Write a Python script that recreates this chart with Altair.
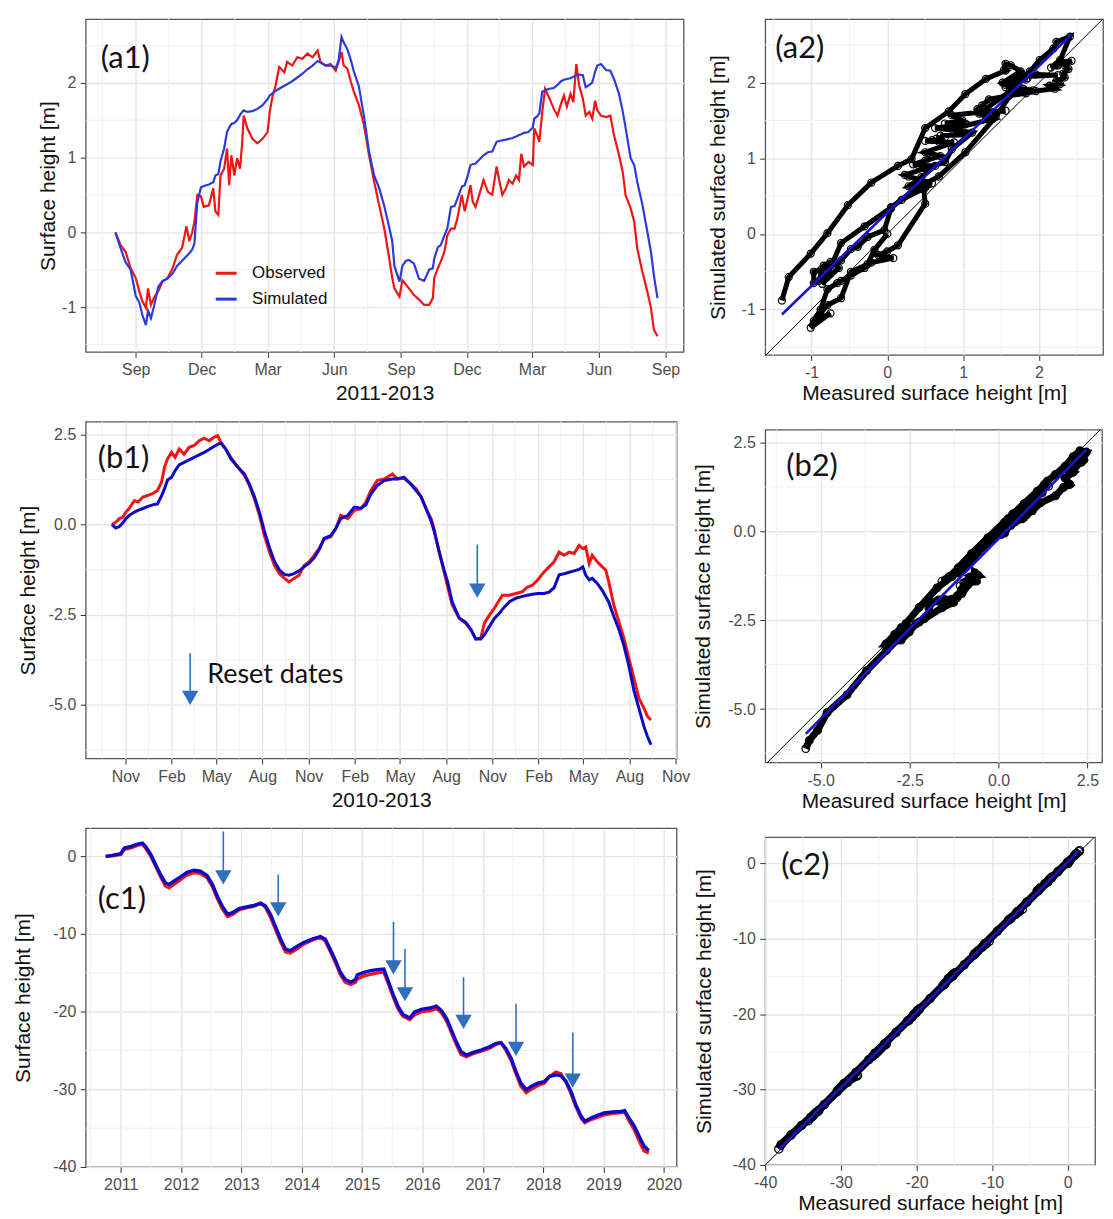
import altair as alt
import pandas as pd

FONT = "Liberation Sans"
LFONT = "Lato"
RED = "#F21414"
BLUE_A = "#2B3BDB"
BLUE_B = "#0A0AC6"
FIT = "#1515D0"
ARROW = "#2F6FBF"
MINOR = "#F0F0F0"

# ---------------- (a) 2011-2013 : days since 2011-09-01 ----------------
a_day = [-28, -21, -14, -7, 0, 5, 9, 14, 17, 21,
         25, 31, 37, 44, 51, 57, 64, 70, 74, 78,
         81, 85, 90, 94, 101, 107, 110, 114, 117, 122,
         126, 129, 132, 136, 140, 144, 147, 149, 154, 161,
         168, 175, 182, 185, 189, 193, 198, 205, 209, 216,
         223, 230, 237, 244, 251, 255, 262, 269, 276, 280,
         284, 287, 292, 297, 301, 308, 315, 322, 329, 336,
         343, 349, 354, 357, 364, 368, 373, 377, 384, 391,
         398, 405, 410, 412, 417, 421, 426, 430, 435, 440,
         444, 450, 454, 458, 462, 465, 469, 474, 480, 486,
         492, 498, 502, 506, 511, 515, 520, 525, 529, 532,
         536, 542, 548, 550, 554, 557, 561, 565, 571, 577,
         582, 587, 591, 595, 600, 604, 608, 612, 617, 621,
         626, 630, 634, 637, 642, 649, 655, 660, 667, 672,
         676, 683, 688, 692, 699, 706, 711, 715, 720]
a_obs = [0.00, -0.17, -0.26, -0.48, -0.61, -0.79, -0.92, -1.01, -0.75, -0.97,
         -0.88, -0.79, -0.66, -0.61, -0.48, -0.30, -0.21, 0.08, -0.12, 0.00,
         0.14, 0.50, 0.48, 0.34, 0.36, 0.59, 0.28, 0.23, 0.76, 0.85,
         1.12, 0.63, 1.03, 0.76, 0.99, 0.85, 1.21, 1.56, 1.39, 1.25,
         1.19, 1.25, 1.34, 1.61, 1.83, 1.96, 2.21, 2.14, 2.28, 2.23,
         2.34, 2.32, 2.39, 2.34, 2.43, 2.28, 2.23, 2.25, 2.16, 2.28,
         2.41, 2.23, 2.19, 2.01, 1.88, 1.70, 1.43, 1.03, 0.68, 0.36,
         0.05, -0.30, -0.61, -0.75, -0.86, -0.64, -0.70, -0.75, -0.84, -0.90,
         -0.97, -0.97, -0.88, -0.61, -0.48, -0.39, -0.26, -0.04, 0.05, 0.05,
         0.19, 0.50, 0.28, 0.45, 0.63, 0.41, 0.34, 0.50, 0.70, 0.54,
         0.50, 0.88, 0.68, 0.50, 0.59, 0.70, 0.65, 0.76, 0.70, 1.05,
         0.88, 0.94, 0.90, 1.39, 1.30, 1.21, 1.61, 1.92, 1.79, 1.65,
         1.56, 1.72, 1.83, 1.68, 1.85, 1.74, 2.25, 1.96, 1.79, 1.56,
         1.61, 1.52, 1.76, 1.63, 1.56, 1.54, 1.56, 1.30, 1.03, 0.81,
         0.50, 0.32, 0.14, -0.21, -0.52, -0.79, -1.01, -1.30, -1.39]
a_sim = [0.00, -0.21, -0.40, -0.50, -0.85, -0.94, -1.10, -1.24, -1.05, -1.15,
         -1.00, -0.73, -0.65, -0.62, -0.55, -0.45, -0.38, -0.32, -0.28, -0.23,
         -0.15, 0.40, 0.60, 0.62, 0.64, 0.67, 0.76, 0.78, 0.95, 1.12,
         1.34, 1.40, 1.45, 1.46, 1.50, 1.57, 1.61, 1.63, 1.61, 1.62,
         1.65, 1.70, 1.78, 1.83, 1.86, 1.89, 1.92, 1.96, 1.98, 2.02,
         2.07, 2.12, 2.18, 2.23, 2.29, 2.27, 2.23, 2.23, 2.20, 2.30,
         2.61, 2.54, 2.45, 2.30, 2.15, 1.95, 1.55, 1.08, 0.76, 0.59,
         0.35, 0.10, -0.12, -0.45, -0.66, -0.45, -0.38, -0.37, -0.42, -0.62,
         -0.65, -0.50, -0.48, -0.35, -0.20, -0.17, -0.04, 0.05, 0.34, 0.35,
         0.45, 0.61, 0.63, 0.75, 0.90, 0.91, 0.92, 0.97, 1.03, 1.07,
         1.08, 1.21, 1.22, 1.23, 1.24, 1.25, 1.26, 1.28, 1.30, 1.31,
         1.33, 1.34, 1.40, 1.52, 1.55, 1.59, 1.88, 1.90, 1.92, 1.93,
         1.97, 2.02, 2.04, 2.05, 2.06, 2.08, 2.10, 2.11, 2.10, 1.94,
         1.97, 2.00, 2.15, 2.23, 2.25, 2.17, 2.16, 2.05, 1.85, 1.62,
         1.40, 0.99, 0.90, 0.68, 0.38, 0.01, -0.26, -0.57, -0.88]

# ---------------- (b) 2010-2013 : days since 2010-11-01 ----------------
b_day = [-27, -19, -12, -5, 1, 8, 18, 25, 35, 44,
         54, 64, 72, 78, 84, 92, 99, 107, 117, 127,
         137, 147, 157, 167, 177, 184, 190, 200, 210, 224,
         237, 247, 257, 267, 277, 287, 297, 307, 317, 326,
         336, 346, 356, 366, 376, 386, 396, 409, 419, 429,
         443, 456, 469, 479, 489, 502, 516, 532, 542, 555,
         569, 579, 589, 599, 609, 615, 625, 635, 642, 651,
         665, 678, 688, 698, 708, 715, 725, 735, 745, 751,
         765, 778, 791, 801, 811, 821, 834, 844, 854, 864,
         874, 884, 894, 904, 911, 917, 924, 930, 940, 950,
         957, 963, 973, 983, 993, 1003, 1013, 1023, 1033, 1040,
         1047]
b_obs = [0.00, 0.07, 0.17, 0.21, 0.35, 0.46, 0.67, 0.63, 0.77, 0.81,
         0.86, 0.95, 1.18, 1.60, 1.83, 2.01, 1.87, 2.10, 1.96, 2.15,
         2.20, 2.33, 2.40, 2.33, 2.43, 2.47, 2.29, 2.10, 1.87, 1.60,
         1.37, 1.09, 0.72, 0.26, -0.30, -0.76, -1.13, -1.36, -1.49, -1.59,
         -1.49, -1.40, -1.13, -1.03, -0.85, -0.66, -0.39, -0.34, -0.11, 0.26,
         0.17, 0.40, 0.44, 0.63, 0.95, 1.23, 1.27, 1.41, 1.27, 1.29,
         1.13, 1.00, 0.77, 0.44, 0.17, -0.11, -0.76, -1.31, -1.73, -2.23,
         -2.60, -2.74, -2.92, -3.17, -3.15, -2.74, -2.51, -2.32, -2.09, -1.96,
         -1.96, -1.91, -1.86, -1.73, -1.68, -1.54, -1.31, -1.17, -1.03, -0.76,
         -0.85, -0.76, -0.80, -0.57, -0.66, -0.62, -1.08, -0.85, -1.03, -1.17,
         -1.26, -1.59, -2.23, -2.69, -3.15, -3.71, -4.26, -4.82, -5.09, -5.32,
         -5.42]
b_sim = [0.00, -0.09, -0.05, 0.05, 0.17, 0.26, 0.35, 0.40, 0.45, 0.50,
         0.55, 0.58, 0.80, 1.00, 1.24, 1.32, 1.50, 1.66, 1.73, 1.80,
         1.87, 1.94, 2.01, 2.09, 2.18, 2.23, 2.27, 2.10, 1.83, 1.60,
         1.41, 1.13, 0.78, 0.35, -0.18, -0.63, -1.02, -1.26, -1.38, -1.40,
         -1.36, -1.28, -1.17, -1.07, -0.92, -0.70, -0.38, -0.30, -0.11, 0.17,
         0.26, 0.49, 0.46, 0.55, 0.85, 1.09, 1.23, 1.27, 1.27, 1.32,
         1.12, 0.95, 0.78, 0.45, 0.10, -0.18, -0.74, -1.27, -1.59, -2.14,
         -2.59, -2.71, -2.90, -3.17, -3.17, -3.06, -2.83, -2.60, -2.46, -2.35,
         -2.14, -2.04, -1.99, -1.96, -1.93, -1.91, -1.91, -1.87, -1.75, -1.39,
         -1.36, -1.32, -1.28, -1.24, -1.17, -1.40, -1.53, -1.49, -1.63, -1.82,
         -2.00, -2.15, -2.55, -2.90, -3.35, -3.92, -4.60, -5.10, -5.60, -5.88,
         -6.11]
b_reset_day = [701]
b_reset_top = [-0.55]
b_reset_head = [-1.83]
b_key_day = [129]
b_key_top = [-3.57]
b_key_head = [-4.81]

# ---------------- (c) 2010-2019 : decimal years ----------------
c_year = [2010.75, 2010.86, 2011.00, 2011.06, 2011.17, 2011.28, 2011.36, 2011.41, 2011.50, 2011.58,
          2011.66, 2011.74, 2011.80, 2011.88, 2011.99, 2012.10, 2012.21, 2012.32, 2012.43, 2012.52,
          2012.60, 2012.68, 2012.77, 2012.85, 2012.96, 2013.10, 2013.21, 2013.32, 2013.40, 2013.48,
          2013.56, 2013.65, 2013.73, 2013.81, 2013.92, 2014.03, 2014.17, 2014.31, 2014.39, 2014.47,
          2014.56, 2014.64, 2014.72, 2014.81, 2014.89, 2014.92, 2015.03, 2015.14, 2015.25, 2015.36,
          2015.43, 2015.52, 2015.60, 2015.68, 2015.79, 2015.87, 2015.98, 2016.12, 2016.23, 2016.31,
          2016.40, 2016.48, 2016.56, 2016.64, 2016.73, 2016.84, 2016.97, 2017.11, 2017.22, 2017.30,
          2017.38, 2017.47, 2017.55, 2017.63, 2017.72, 2017.80, 2017.91, 2018.02, 2018.10, 2018.21,
          2018.29, 2018.38, 2018.46, 2018.54, 2018.63, 2018.69, 2018.79, 2018.90, 2019.01, 2019.15,
          2019.29, 2019.35, 2019.42, 2019.51, 2019.59, 2019.67, 2019.75]
c_obs = [0.00, 0.05, 0.25, 0.90, 1.10, 1.45, 1.55, 1.10, 0.00, -1.30,
         -2.60, -3.80, -4.05, -3.60, -3.00, -2.40, -2.10, -2.20, -2.70, -3.90,
         -5.40, -6.70, -7.75, -7.50, -6.90, -6.60, -6.40, -6.00, -6.60, -7.80,
         -9.30, -11.00, -12.30, -12.45, -11.90, -11.30, -10.80, -10.40, -10.90, -12.20,
         -13.70, -15.20, -16.20, -16.50, -16.20, -15.80, -15.40, -15.20, -15.00, -14.90,
         -16.30, -18.20, -19.70, -20.60, -21.00, -20.40, -20.00, -19.90, -19.60, -20.10,
         -21.20, -22.70, -24.20, -25.50, -25.80, -25.40, -25.10, -24.70, -24.20, -24.00,
         -24.90, -26.30, -28.00, -29.60, -30.40, -30.00, -29.50, -29.20, -28.40, -27.80,
         -28.00, -29.10, -30.50, -32.20, -33.70, -34.30, -33.90, -33.60, -33.30, -33.10,
         -33.00, -32.90, -34.00, -35.20, -36.60, -37.90, -38.20]
c_sim = [0.00, 0.13, 0.34, 1.07, 1.28, 1.58, 1.71, 1.28, 0.21, -1.07,
         -2.35, -3.41, -3.62, -3.20, -2.64, -2.05, -1.79, -1.92, -2.47, -3.62,
         -5.12, -6.40, -7.46, -7.25, -6.74, -6.48, -6.31, -6.06, -6.40, -7.46,
         -8.96, -10.66, -11.94, -12.15, -11.60, -11.09, -10.66, -10.32, -10.66, -11.94,
         -13.43, -14.93, -15.86, -16.20, -15.86, -15.27, -14.93, -14.71, -14.58, -14.50,
         -15.99, -17.91, -19.40, -20.38, -20.81, -20.04, -19.70, -19.53, -19.28, -19.83,
         -20.90, -22.39, -23.88, -25.16, -25.59, -25.25, -24.95, -24.52, -24.09, -23.97,
         -24.73, -26.01, -27.72, -29.21, -30.06, -29.64, -29.21, -29.00, -28.36, -28.14,
         -28.23, -29.00, -30.28, -31.98, -33.48, -34.12, -33.69, -33.35, -33.05, -32.92,
         -32.84, -32.75, -33.69, -34.75, -36.03, -37.31, -37.87]
c_reset_year = [2012.70, 2013.61, 2015.52, 2015.71, 2016.68, 2017.55, 2018.49]
c_reset_top = [3.20, -2.35, -8.44, -11.94, -15.57, -18.98, -22.69]
c_reset_head = [-2.71, -6.82, -14.29, -17.76, -21.32, -24.80, -28.89]

a_ticks = [-1, 0, 1, 2]
b_ticks = [-5.0, -2.5, 0.0, 2.5]
c_ticks = [-40, -30, -20, -10, 0]
c_year_ticks = list(range(2011, 2021))


# ---------------- helpers ----------------
def ts_ms(s):
    return int(pd.Timestamp(s).value // 10**6)


def days_ms(base, days):
    b = pd.Timestamp(base)
    return [int((b + pd.Timedelta(days=float(d))).value // 10**6) for d in days]


def quarter_starts(y, m, n):
    out = []
    for _ in range(n):
        out.append(ts_ms(f"{y:04d}-{m:02d}-01"))
        m += 3
        if m > 12:
            m -= 12
            y += 1
    return out


def mids(v):
    return [(p + q) / 2 for p, q in zip(v[:-1], v[1:])]


def inside(v, dom):
    return [x for x in v if dom[0] < x < dom[1]]


def num_expr(fmt):
    return f"(datum.value < 0 ? '-' : '') + format(abs(datum.value), '{fmt}')"


MONTH_EXPR = "utcFormat(datum.value, '%b')"


def vgrid(field, vals, enc):
    return alt.Chart(pd.DataFrame({field: vals})).mark_rule(
        color=MINOR, strokeWidth=1).encode(x=enc)


def hgrid(field, vals, enc):
    return alt.Chart(pd.DataFrame({field: vals})).mark_rule(
        color=MINOR, strokeWidth=1).encode(y=enc)


def tag(text, x, y):
    return alt.Chart(pd.DataFrame({"s": [text]})).mark_text(
        font=LFONT, fontSize=31, align="left", baseline="middle", color="#111111"
    ).encode(x=alt.value(x), y=alt.value(y), text="s:N")


def series_long(xname, xs, obs, sim):
    df = pd.DataFrame({xname: xs, "Observed": obs, "Simulated": sim})
    return df.melt(id_vars=xname, var_name="series", value_name="h")


# ---------------- (a1) ----------------
a_dom = [ts_ms("2011-06-24"), ts_ms("2013-09-26")]
a_t = days_ms("2011-09-01", a_day)
a_long = series_long("t", a_t, a_obs, a_sim)
XA = alt.X("t:T", scale=alt.Scale(type="utc", domain=a_dom, nice=False),
           axis=alt.Axis(values=quarter_starts(2011, 9, 9), labelExpr=MONTH_EXPR,
                         title="2011-2013"))
A_YSCALE = alt.Scale(domain=[-1.60, 2.85], nice=False, zero=False)
A_YAXIS = alt.Axis(values=a_ticks, labelExpr=num_expr("d"), title="Surface height [m]",
                   titlePadding=3)
YA = alt.Y("h:Q", scale=A_YSCALE, axis=A_YAXIS)

a_lines = alt.Chart(a_long).mark_line(strokeWidth=2.2, clip=True).encode(
    x=XA, y=YA,
    color=alt.Color("series:N",
                    scale=alt.Scale(domain=["Observed", "Simulated"], range=[RED, BLUE_A]),
                    legend=alt.Legend(title=None, orient="none", legendX=129, legendY=243,
                                      symbolType="stroke", symbolStrokeWidth=3,
                                      symbolSize=440, labelFont=FONT, labelFontSize=17,
                                      labelColor="#111111", labelOffset=14,
                                      rowPadding=6, padding=0)))
a1 = alt.layer(
    vgrid("t", inside(mids(quarter_starts(2011, 6, 10)), a_dom), XA),
    hgrid("h", mids([-2] + a_ticks + [3]), YA),
    a_lines,
    tag("(a1)", 15, 40),
).properties(width=600, height=334)

# ---------------- (b1) ----------------
b_dom = [ts_ms("2010-08-14"), ts_ms("2013-11-03")]
b_t = days_ms("2010-11-01", b_day)
b_long = series_long("t", b_t, b_obs, b_sim)
XB = alt.X("t:T", scale=alt.Scale(type="utc", domain=b_dom, nice=False),
           axis=alt.Axis(values=quarter_starts(2010, 11, 13), labelExpr=MONTH_EXPR,
                         title="2010-2013"))
B_YSCALE = alt.Scale(domain=[-6.49, 2.86], nice=False, zero=False)
B_YAXIS = alt.Axis(values=b_ticks, labelExpr=num_expr(".1f"), title="Surface height [m]",
                   titlePadding=10)


def YB(f):
    return alt.Y(f"{f}:Q", scale=B_YSCALE, axis=B_YAXIS)


b_arrows = pd.DataFrame({
    "t": days_ms("2010-11-01", b_reset_day + b_key_day),
    "h": b_reset_top + b_key_top,
    "hc": b_reset_head + b_key_head,
})
b1 = alt.layer(
    vgrid("t", inside(mids(quarter_starts(2010, 8, 14)), b_dom), XB),
    hgrid("h", [-6.25, -3.75, -1.25, 1.25], YB("h")),
    alt.Chart(b_long).transform_filter("datum.series == 'Observed'").mark_line(
        color=RED, strokeWidth=3, clip=True).encode(x=XB, y=YB("h")),
    alt.Chart(b_long).transform_filter("datum.series == 'Simulated'").mark_line(
        color=BLUE_B, strokeWidth=3, clip=True).encode(x=XB, y=YB("h")),
    alt.Chart(b_arrows).mark_rule(color=ARROW, strokeWidth=1.6).encode(
        x=XB, y=YB("h"), y2="hc:Q"),
    alt.Chart(b_arrows).mark_point(shape="triangle-down", filled=True, size=270,
                                   color=ARROW, opacity=1).encode(x=XB, y=YB("hc")),
    alt.Chart(pd.DataFrame({"s": ["Reset dates"]})).mark_text(
        font=LFONT, fontSize=27, align="left", baseline="alphabetic", color="#111111"
    ).encode(x=alt.value(122), y=alt.value(262), text="s:N"),
    tag("(b1)", 12, 37),
).properties(width=593, height=338)

# ---------------- (c1) ----------------
c_long = series_long("yr", c_year, c_obs, c_sim)
XC = alt.X("yr:Q", scale=alt.Scale(domain=[2010.42, 2020.21], nice=False, zero=False),
           axis=alt.Axis(values=c_year_ticks, format="d", title=None))
C_YSCALE = alt.Scale(domain=[-40.0, 3.62], nice=False, zero=False)
C_YAXIS = alt.Axis(values=c_ticks, labelExpr=num_expr("d"), title="Surface height [m]",
                   titlePadding=19)


def YC(f):
    return alt.Y(f"{f}:Q", scale=C_YSCALE, axis=C_YAXIS)


c_arrows = pd.DataFrame({"yr": c_reset_year, "h": c_reset_top, "hc": c_reset_head})
c1 = alt.layer(
    vgrid("yr", [y + 0.5 for y in range(2010, 2020)], XC),
    hgrid("h", [-35, -25, -15, -5], YC("h")),
    alt.Chart(c_long).transform_filter("datum.series == 'Observed'").mark_line(
        color=RED, strokeWidth=3.4, clip=True).encode(x=XC, y=YC("h")),
    alt.Chart(c_long).transform_filter("datum.series == 'Simulated'").mark_line(
        color=BLUE_B, strokeWidth=3.4, clip=True).encode(x=XC, y=YC("h")),
    alt.Chart(c_arrows).mark_rule(color=ARROW, strokeWidth=1.6).encode(
        x=XC, y=YC("h"), y2="hc:Q"),
    alt.Chart(c_arrows).mark_point(shape="triangle-down", filled=True, size=270,
                                   color=ARROW, opacity=1).encode(x=XC, y=YC("hc")),
    tag("(c1)", 12, 72),
).properties(width=593, height=340)


# ---------------- scatter panels ----------------
def scatter(obs, sim, xdom, ydom, ticks, fmt, minors, w, h, label, lx, ly, band, psize, ypad):
    df = pd.DataFrame({"obs": obs, "sim": sim, "k": list(range(len(obs)))})
    xs = alt.Scale(domain=xdom, nice=False, zero=False)
    ys = alt.Scale(domain=ydom, nice=False, zero=False)
    xa = alt.Axis(values=ticks, labelExpr=num_expr(fmt), title="Measured surface height [m]",
                  titlePadding=2)
    ya = alt.Axis(values=ticks, labelExpr=num_expr(fmt), title="Simulated surface height [m]",
                  titlePadding=ypad)
    X = alt.X("obs:Q", scale=xs, axis=xa)
    Y = alt.Y("sim:Q", scale=ys, axis=ya)
    lo = min(xdom[0], ydom[0])
    hi = max(xdom[1], ydom[1])
    diag = pd.DataFrame({"obs": [lo, hi], "sim": [lo, hi]})
    return alt.layer(
        vgrid("obs", minors, X),
        hgrid("sim", minors, Y),
        alt.Chart(diag).mark_line(color="black", strokeWidth=1, clip=True).encode(x=X, y=Y),
        alt.Chart(df).mark_line(color="black", strokeWidth=band, clip=True).encode(
            x=X, y=Y, order="k:Q"),
        alt.Chart(df).mark_point(shape="circle", filled=False, color="black", size=psize,
                                 strokeWidth=1.2, opacity=1, clip=True).encode(x=X, y=Y),
        alt.Chart(df).transform_regression("obs", "sim").mark_line(
            color=FIT, strokeWidth=2.6).encode(x=X, y=Y),
        tag(label, lx, ly),
    ).properties(width=w, height=h)


a2 = scatter(a_obs, a_sim, [-1.61, 2.845], [-1.60, 2.84], a_ticks, "d",
             [-1.5, -0.5, 0.5, 1.5, 2.5], 339, 337, "(a2)", 10, 30, 5, 50, 13)
b2 = scatter(b_obs, b_sim, [-6.56, 2.91], [-6.50, 2.86], b_ticks, ".1f",
             [-6.25, -3.75, -1.25, 1.25], 338, 334, "(b2)", 21, 38, 7, 60, 14)
c2 = scatter(c_obs, c_sim, [-40.0, 3.6], [-40.0, 3.5], c_ticks, "d",
             [-35, -25, -15, -5], 331, 329, "(c2)", 16, 29, 8, 70, 18)

left = alt.vconcat(a1, b1, c1, spacing=15).resolve_scale(color="independent")
right = alt.vconcat(a2, b2, c2, spacing=23)
chart = alt.hconcat(left, right, spacing=1).resolve_scale(color="independent").properties(
    padding={"left": 4, "top": 7, "right": 0, "bottom": 0})

chart = chart.configure_view(stroke="#555555", strokeWidth=1.3).configure_axis(
    domain=False, tickColor="#333333", tickSize=5.5, tickWidth=1,
    labelFont=FONT, labelFontSize=16, labelColor="#4D4D4D", labelPadding=4.5,
    labelFlush=False, labelOverlap=False,
    gridColor="#E4E4E4", gridWidth=1.4,
    titleFont=FONT, titleFontSize=21, titleFontWeight="normal", titleColor="#111111",
    titlePadding=5)

chart.save("out.html", embed_options={"renderer": "svg", "actions": False})
